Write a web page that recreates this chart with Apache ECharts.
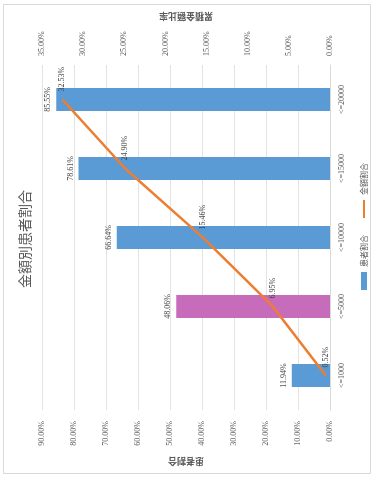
<!DOCTYPE html>
<html>
<head>
<meta charset="utf-8">
<script src="https://cdn.jsdelivr.net/npm/echarts@6/dist/echarts.min.js"></script>
<style>
  html, body { margin: 0; padding: 0; background: #fff; }
  #page { position: relative; width: 374px; height: 478px; overflow: hidden; background: #fff; }
  /* the chart is laid out landscape and turned a quarter turn to the left */
  #chart { position: absolute; width: 478px; height: 374px; left: -52px; top: 52px; transform: rotate(-90deg); }
</style>
</head>
<body>
<div id="page"><div id="chart"></div></div>
<script>
// 金額帯ごとの患者割合（棒）と累積金額比率（折れ線）
const categories = ['<=1000', '<=5000', '<=10000', '<=15000', '<=20000'];
const patientShare = [11.94, 48.06, 66.64, 78.61, 85.55];
const amountShare = [0.52, 6.95, 15.46, 24.90, 32.53];
const highlightIndex = 1;

const NUM_FONT = "'Liberation Serif', 'Noto Sans CJK JP', serif";
const JP_FONT = "'Noto Sans CJK JP', sans-serif";
const pct = v => Number(v).toFixed(2) + '%';

const chart = echarts.init(document.getElementById('chart'), null, { renderer: 'canvas' });

chart.setOption({
  animation: false,
  backgroundColor: '#ffffff',
  graphic: [{
    type: 'rect',
    shape: { x: 4.5, y: 3.5, width: 469, height: 367 },
    style: { fill: 'none', stroke: '#d9d9d9', lineWidth: 1 },
    silent: true,
    z: -10
  }],
  title: {
    text: '金額別患者割合',
    left: 'center',
    top: 13,
    textStyle: { fontFamily: JP_FONT, fontSize: 14, fontWeight: 'normal', color: '#595959' }
  },
  legend: {
    top: 355,
    left: 183,
    itemGap: 16,
    itemWidth: 18,
    itemHeight: 6,
    textStyle: { fontFamily: JP_FONT, fontSize: 8, color: '#595959' },
    data: [
      { name: '患者割合', icon: 'rect' },
      { name: '金額割合', itemStyle: { opacity: 0 } }
    ]
  },
  grid: { left: 68, right: 65, top: 42, bottom: 44, containLabel: false },
  xAxis: {
    type: 'category',
    data: categories,
    axisLine: { lineStyle: { color: '#d9d9d9' } },
    axisTick: { show: false },
    axisLabel: { fontFamily: NUM_FONT, fontSize: 8, color: '#595959', margin: 8 }
  },
  yAxis: [
    {
      type: 'value',
      min: 0, max: 90, interval: 10,
      name: '患者割合',
      nameLocation: 'middle',
      nameRotate: 90,
      nameGap: 43,
      nameTextStyle: { fontFamily: JP_FONT, fontSize: 9, fontWeight: 'bold', color: '#595959' },
      axisLine: { show: false },
      axisTick: { show: false },
      axisLabel: { formatter: pct, fontFamily: NUM_FONT, fontSize: 8, color: '#595959', margin: 11 },
      splitLine: { lineStyle: { color: '#e3e3e3' } }
    },
    {
      type: 'value',
      position: 'right',
      min: 0, max: 35, interval: 5,
      name: '累積金額比率',
      nameLocation: 'middle',
      nameRotate: 90,
      nameGap: 42,
      nameTextStyle: { fontFamily: JP_FONT, fontSize: 9, fontWeight: 'bold', color: '#595959' },
      axisLine: { show: false },
      axisTick: { show: false },
      axisLabel: { formatter: pct, fontFamily: NUM_FONT, fontSize: 8, color: '#595959', margin: 9 },
      splitLine: { show: false }
    }
  ],
  series: [
    {
      name: '患者割合',
      type: 'bar',
      barWidth: 23,
      itemStyle: { color: '#5b9bd5' },
      data: patientShare.map((v, i) => i === highlightIndex
        ? { value: v, itemStyle: { color: '#c66cbb' } }
        : v),
      label: {
        show: true,
        position: 'top',
        distance: 4,
        formatter: p => pct(p.value),
        fontFamily: NUM_FONT, fontSize: 8, color: '#404040'
      }
    },
    {
      name: '金額割合',
      type: 'line',
      yAxisIndex: 1,
      data: amountShare,
      symbol: 'circle',
      symbolSize: 0.1,
      itemStyle: { color: '#ed7d31' },
      lineStyle: { color: '#ed7d31', width: 2.5 },
      label: {
        show: true,
        position: 'right',
        distance: 8,
        formatter: p => pct(p.value),
        fontFamily: NUM_FONT, fontSize: 8, color: '#404040'
      },
      z: 3
    }
  ]
});
</script>
</body>
</html>
